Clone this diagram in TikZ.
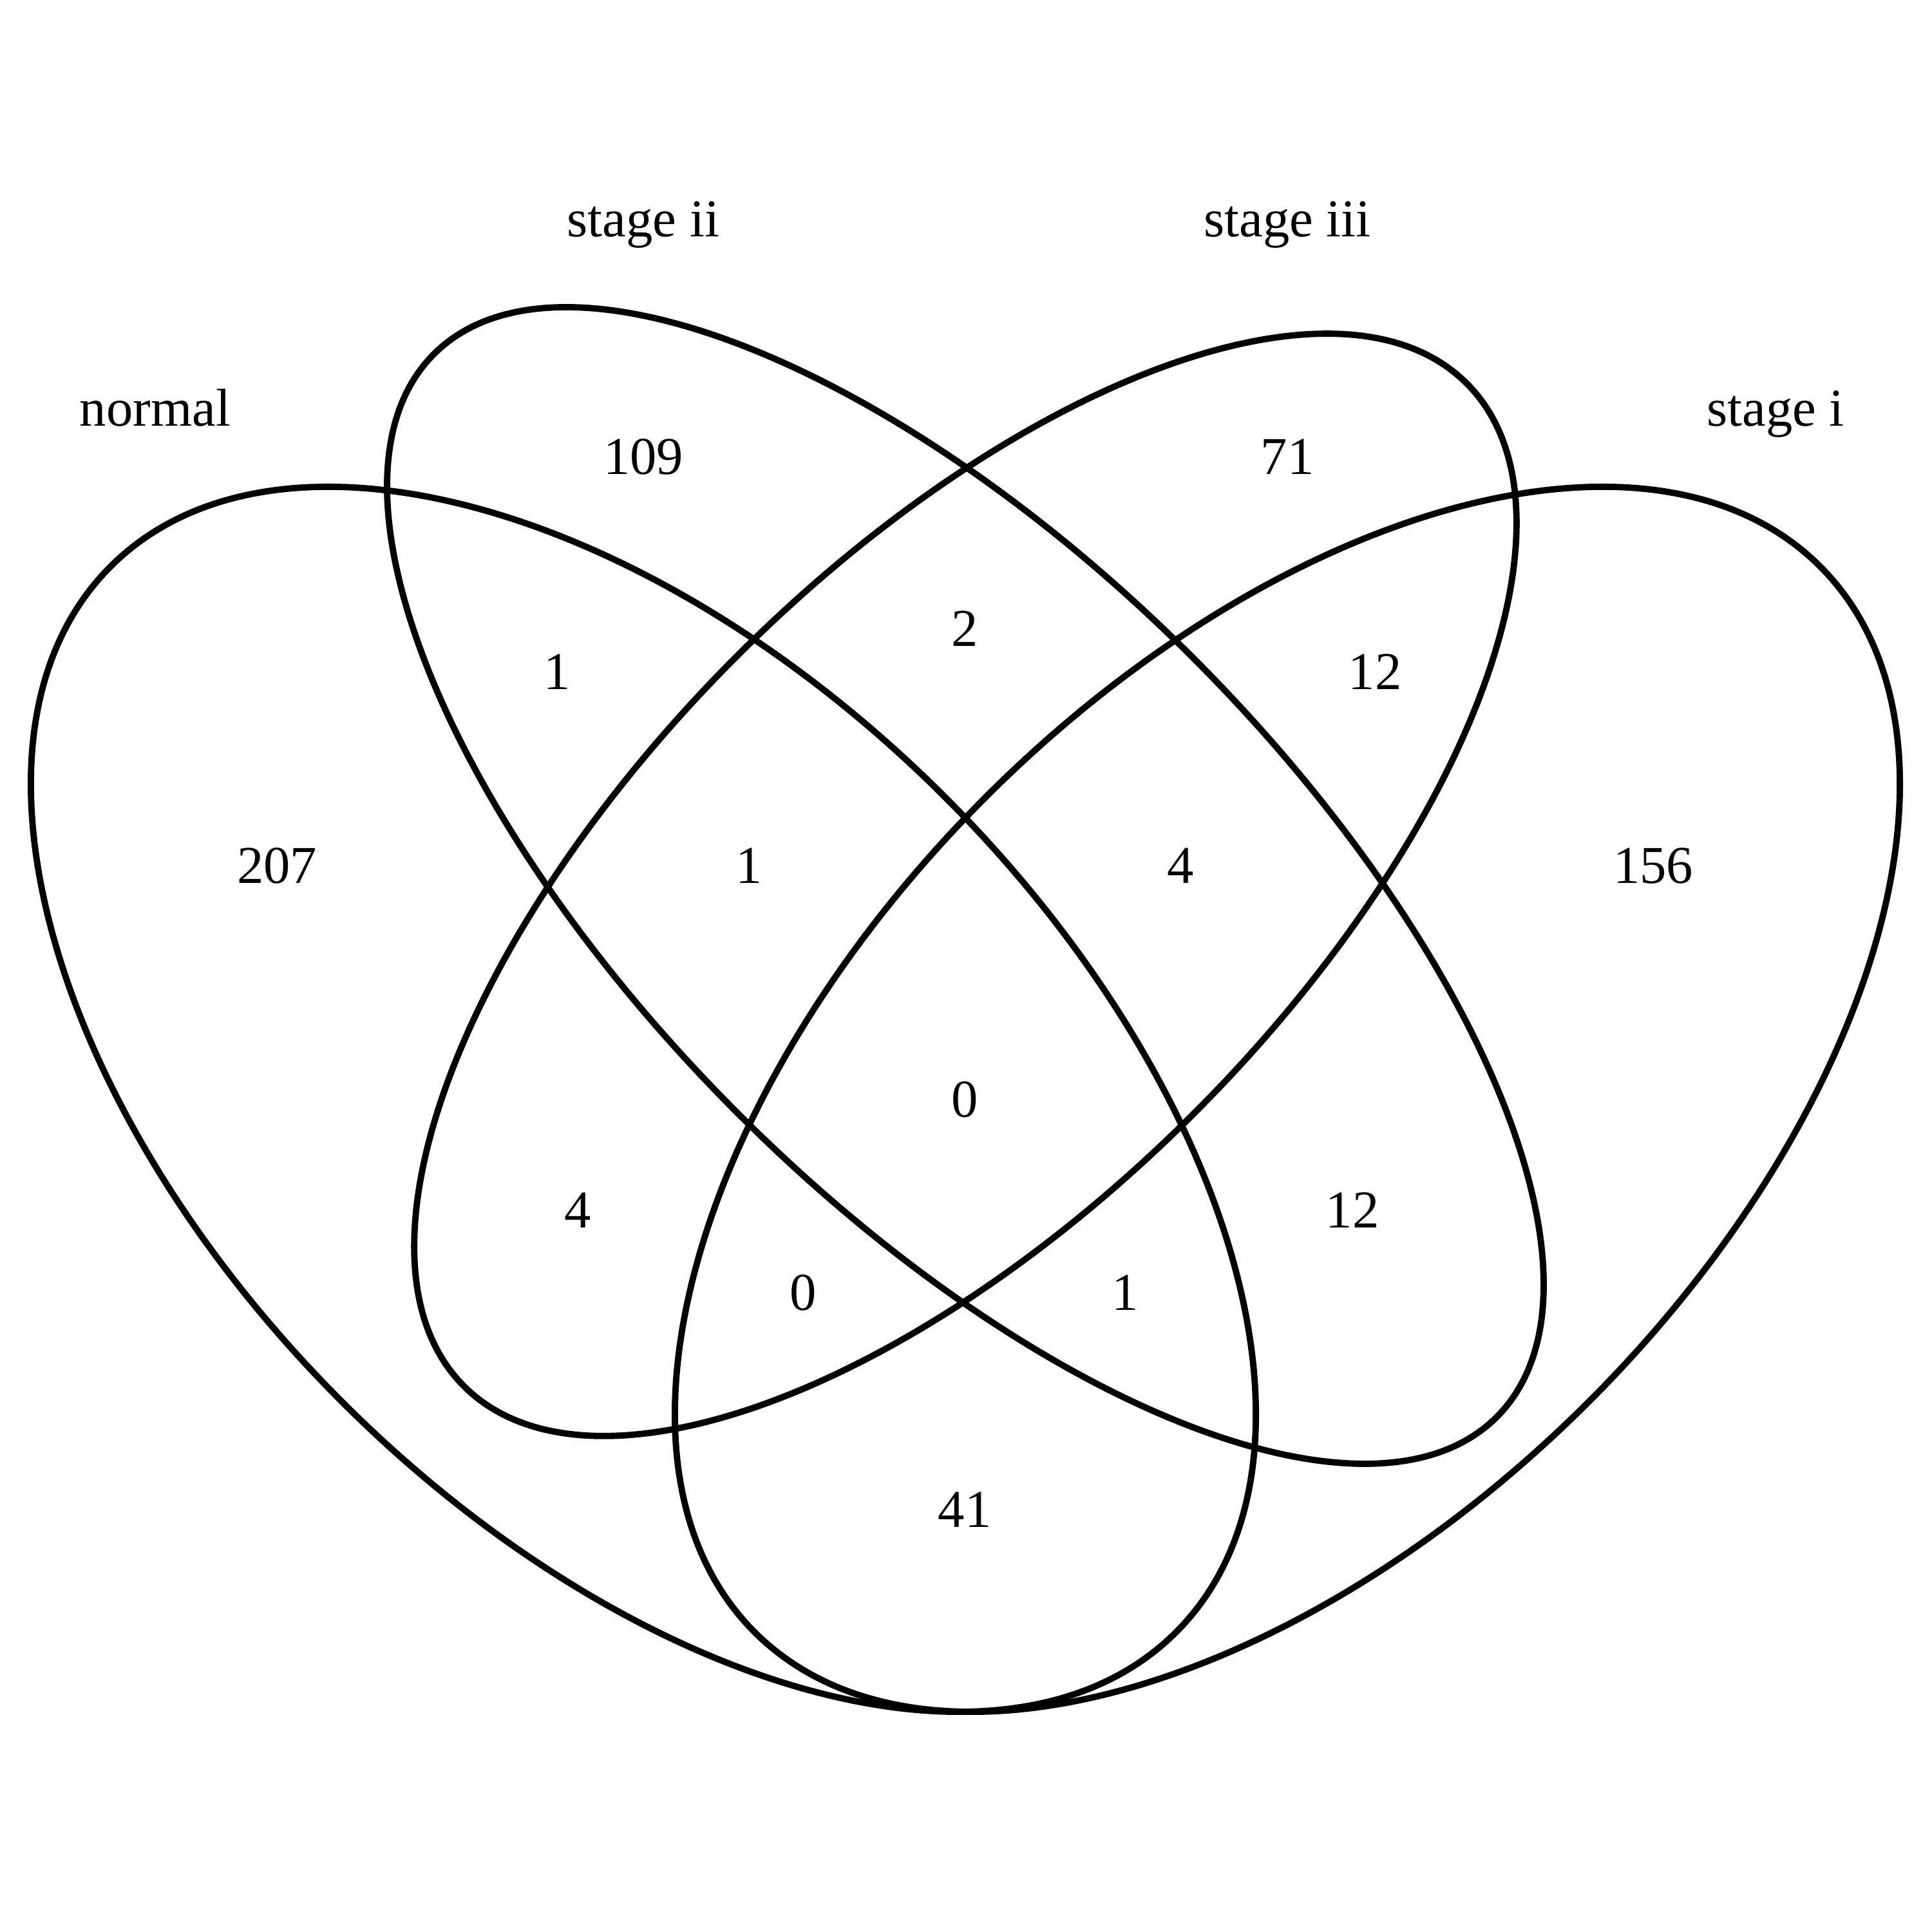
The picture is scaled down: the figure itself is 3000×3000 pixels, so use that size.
\documentclass[tikz,border=0pt]{standalone}
\usepackage{fontspec}
\setmainfont{Liberation Serif}
\begin{document}
\begin{tikzpicture}[x=0.01cm,y=0.01cm,
  setline/.style={line width=2.8pt, black},
  lbl/.style={anchor=base, inner sep=0pt, font=\fontsize{23.5}{28}\selectfont}]
\useasboundingbox (0,0) rectangle (3000,3000);
% ellipses (centres in pixel coords, y flipped)
\coordinate (cn) at (999,1293);
\coordinate (ci) at (1999,1293);
\coordinate (cii) at (1499,1625);
\coordinate (ciii) at (1499,1626);
\draw[setline, rotate around={-45:(cn)}] (cn) ellipse [x radius=1170, y radius=663];
\draw[setline, rotate around={45:(ci)}] (ci) ellipse [x radius=1170, y radius=663];
\draw[setline, rotate around={-45:(cii)}] (cii) ellipse [x radius=1167, y radius=500];
\draw[setline, rotate around={45:(ciii)}] (ciii) ellipse [x radius=1101, y radius=502];
% set labels
\node[lbl] (lnormal) at (241,2338) {normal};
\node[lbl] (lii) at (999,2632) {stage ii};
\node[lbl] (liii) at (1999,2632) {stage iii};
\node[lbl] (li) at (2757,2338) {stage i};
% counts
\node[lbl] (n109) at (999,2263) {109};
\node[lbl] (n71) at (1999,2263) {71};
\node[lbl] (n2) at (1498,1996) {2};
\node[lbl] (n1a) at (865,1929) {1};
\node[lbl] (n12a) at (2135,1929) {12};
\node[lbl] (n207) at (430,1628) {207};
\node[lbl] (n1b) at (1163,1628) {1};
\node[lbl] (n4a) at (1833,1628) {4};
\node[lbl] (n156) at (2567,1628) {156};
\node[lbl] (n0a) at (1498,1265) {0};
\node[lbl] (n4b) at (897,1093) {4};
\node[lbl] (n12b) at (2100,1093) {12};
\node[lbl] (n0b) at (1247,965) {0};
\node[lbl] (n1c) at (1747,965) {1};
\node[lbl] (n41) at (1498,628) {41};
\end{tikzpicture}
\end{document}
